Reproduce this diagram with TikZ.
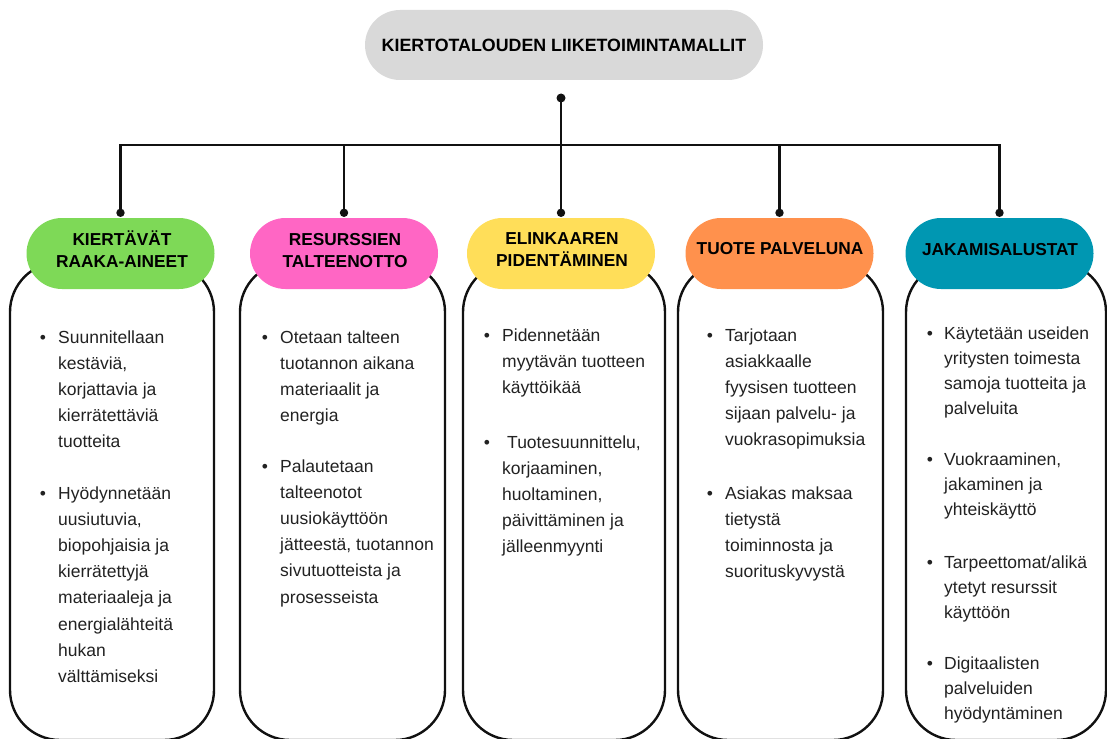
\documentclass[tikz,border=0pt]{standalone}
\usepackage{fontspec}
\setmainfont{Liberation Sans}
\definecolor{cgreen}{HTML}{7ED957}
\definecolor{cpink}{HTML}{FF66C4}
\definecolor{cyellow}{HTML}{FFDE59}
\definecolor{corange}{HTML}{FF914D}
\definecolor{cteal}{HTML}{0097B2}
\definecolor{cgray}{HTML}{D9D9D9}
\definecolor{txt}{HTML}{222222}
\definecolor{lin}{HTML}{111111}
\begin{document}
\begin{tikzpicture}[x=1pt,y=-1pt,
  conn/.style={line width=2.4pt, draw=lin},
  dotmark/.style={fill=lin},
  bodybox/.style={draw=lin, line width=2.4pt, fill=white, rounded corners=50pt,
    minimum width=#1, minimum height=478pt, inner sep=0pt},
  hdr/.style={fill=#1, rounded corners=35.5pt, minimum width=188pt,
    minimum height=71pt, inner sep=0pt},
  hdrtxt/.style={anchor=base, inner sep=0pt, text=black,
    font=\fontsize{17.3}{22}\selectfont\bfseries},
  itemtxt/.style={anchor=base west, inner sep=0pt, text=txt,
    font=\fontsize{17.5}{26.2}\selectfont},
  itemtxtv/.style={anchor=base west, inner sep=0pt, text=txt,
    font=\fontsize{17.5}{25.3}\selectfont},
  bul/.style={anchor=base, inner sep=0pt, text=txt,
    font=\fontsize{17.5}{26.2}\selectfont},
]
\useasboundingbox (0,0) rectangle (1107,738);
\clip (0,0) rectangle (1107,738);

% body boxes
\node[bodybox=204pt] (b1) at (112,501) {};
\node[bodybox=205pt] (b2) at (342.5,501) {};
\node[bodybox=202pt] (b3) at (564,501) {};
\node[bodybox=205pt] (b4) at (780.5,501) {};
\node[bodybox=200pt] (b5) at (1006,501) {};

% headers
\node[hdr=cgreen]  (h1) at (120.5,253.5) {};
\node[hdr=cpink]   (h2) at (344,253.5) {};
\node[hdr=cyellow] (h3) at (561,253.5) {};
\node[hdr=corange] (h4) at (779.5,253.5) {};
\node[hdr=cteal]   (h5) at (999.5,253.5) {};

\node[hdrtxt] (ht1) at (122,245.5) {\begin{tabular}[t]{@{}c@{}}KIERTÄVÄT\\RAAKA-AINEET\end{tabular}};
\node[hdrtxt] (ht2) at (345,245.5) {\begin{tabular}[t]{@{}c@{}}RESURSSIEN\\TALTEENOTTO\end{tabular}};
\node[hdrtxt] (ht3) at (562,244.5) {\begin{tabular}[t]{@{}c@{}}ELINKAAREN\\PIDENTÄMINEN\end{tabular}};
\node[hdrtxt] (ht4) at (780,254.5) {TUOTE PALVELUNA};
\node[hdrtxt] (ht5) at (1000,255) {JAKAMISALUSTAT};

% title
\node[fill=cgray, rounded corners=35pt, minimum width=398pt, minimum height=70pt, inner sep=0pt] (title) at (564,45) {};
\node[hdrtxt, font=\fontsize{17.8}{22}\selectfont\bfseries] (titletxt) at (564,52) {KIERTOTALOUDEN LIIKETOIMINTAMALLIT};

% connectors
\path (h1.north) ++(0,-5) coordinate (d1);
\path (h2.north) ++(0,-5) coordinate (d2);
\path (h3.north) ++(0,-5) coordinate (d3);
\path (h4.north) ++(0,-5) coordinate (d4);
\path (h5.north) ++(0,-5) coordinate (d5);
\coordinate (topdot) at (561,98);
\coordinate (bus) at (561,145);
\draw[conn] (d1) -- (d1 |- bus) -- (d5 |- bus) -- (d5);
\draw[conn] (d2) -- (d2 |- bus);
\draw[conn] (d4) -- (d4 |- bus);
\draw[conn] (topdot) -- (d3);
\fill[dotmark] (topdot) circle (4.5);
\foreach \d in {d1,d2,d3,d4,d5} \fill[dotmark] (\d) circle (4.2);

% column 1
\node[bul] (u1a) at (43,343) {•};
\node[itemtxt] (t1a) at (58,343) {\begin{tabular}[t]{@{}l@{}}Suunnitellaan\\kestäviä,\\korjattavia ja\\kierrätettäviä\\tuotteita\end{tabular}};
\node[bul] (u1b) at (43,499) {•};
\node[itemtxt] (t1b) at (58,499) {\begin{tabular}[t]{@{}l@{}}Hyödynnetään\\uusiutuvia,\\biopohjaisia ja\\kierrätettyjä\\materiaaleja ja\\energialähteitä\\hukan\\välttämiseksi\end{tabular}};

% column 2
\node[bul] (u2a) at (265,343) {•};
\node[itemtxt] (t2a) at (280,343) {\begin{tabular}[t]{@{}l@{}}Otetaan talteen\\tuotannon aikana\\materiaalit ja\\energia\end{tabular}};
\node[bul] (u2b) at (265,472) {•};
\node[itemtxt] (t2b) at (280,472) {\begin{tabular}[t]{@{}l@{}}Palautetaan\\talteenotot\\uusiokäyttöön\\jätteestä, tuotannon\\sivutuotteista ja\\prosesseista\end{tabular}};

% column 3
\node[bul] (u3a) at (487,341) {•};
\node[itemtxt] (t3a) at (502,341) {\begin{tabular}[t]{@{}l@{}}Pidennetään\\myytävän tuotteen\\käyttöikää\end{tabular}};
\node[bul] (u3b) at (487,448) {•};
\node[itemtxt] (t3b) at (507,448) {\begin{tabular}[t]{@{}l@{}}Tuotesuunnittelu,\\\hspace*{-5pt}korjaaminen,\\\hspace*{-5pt}huoltaminen,\\\hspace*{-5pt}päivittäminen ja\\\hspace*{-5pt}jälleenmyynti\end{tabular}};

% column 4
\node[bul] (u4a) at (710,341) {•};
\node[itemtxt] (t4a) at (725,341) {\begin{tabular}[t]{@{}l@{}}Tarjotaan\\asiakkaalle\\fyysisen tuotteen\\sijaan palvelu- ja\\vuokrasopimuksia\end{tabular}};
\node[bul] (u4b) at (710,499) {•};
\node[itemtxt] (t4b) at (725,499) {\begin{tabular}[t]{@{}l@{}}Asiakas maksaa\\tietystä\\toiminnosta ja\\suorituskyvystä\end{tabular}};

% column 5
\node[bul] (u5a) at (930,339) {•};
\node[itemtxtv] (t5a) at (944,339) {\begin{tabular}[t]{@{}l@{}}Käytetään useiden\\yritysten toimesta\\samoja tuotteita ja\\palveluita\end{tabular}};
\node[bul] (u5b) at (930,465) {•};
\node[itemtxtv] (t5b) at (944,465) {\begin{tabular}[t]{@{}l@{}}Vuokraaminen,\\jakaminen ja\\yhteiskäyttö\end{tabular}};
\node[bul] (u5c) at (930,568) {•};
\node[itemtxtv] (t5c) at (944,568) {\begin{tabular}[t]{@{}l@{}}Tarpeettomat/alikä\\ytetyt resurssit\\käyttöön\end{tabular}};
\node[bul] (u5d) at (930,669) {•};
\node[itemtxtv] (t5d) at (944,669) {\begin{tabular}[t]{@{}l@{}}Digitaalisten\\palveluiden\\hyödyntäminen\end{tabular}};
\end{tikzpicture}
\end{document}
